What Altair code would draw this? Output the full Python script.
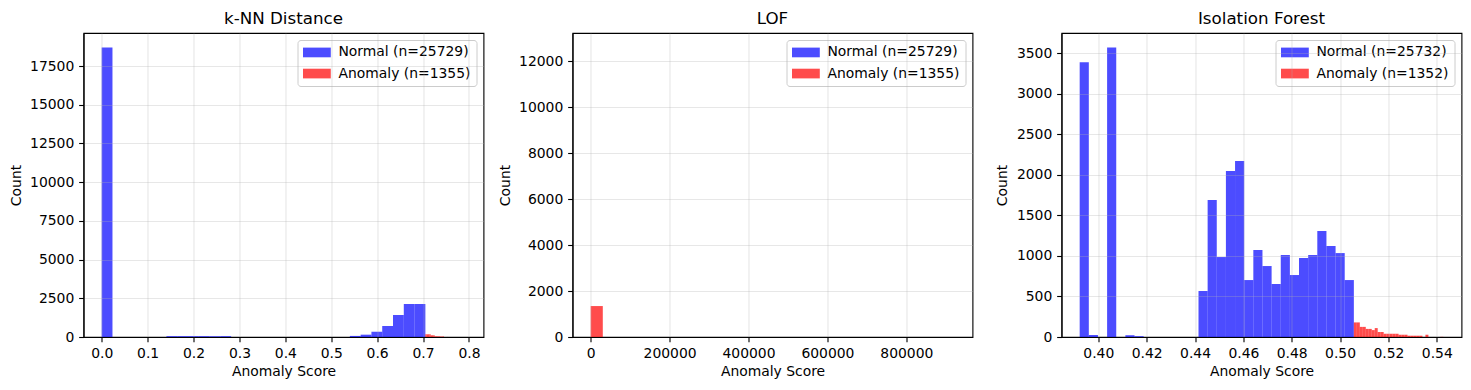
import altair as alt
import numpy as np
import pandas as pd

N_BINS = 30
TITLES = ["k-NN Distance", "LOF", "Isolation Forest"]
NORMAL_N = [25729, 25729, 25732]
ANOMALY_N = [1355, 1355, 1352]

# ---- k-NN Distance ----
knn_normal_range = [0.0, 0.705]
knn_normal_counts = [18700, 0, 0, 0, 0, 0, 55, 55, 55, 55, 55, 55, 0, 0, 0,
                     0, 0, 0, 0, 0, 0, 0, 0, 70, 150, 340, 710, 1420, 2130, 2130]
knn_anomaly_range = [0.705, 0.792]
knn_anomaly_counts = [175, 175, 170, 170, 110, 105, 105, 45, 45, 42, 42, 40, 40, 38, 5,
                      4, 3, 3, 2, 2, 2, 1, 1, 1, 1, 0, 0, 0, 0, 1]

# ---- LOF ----
lof_normal_range = [0.97, 4.0]
lof_normal_counts = [12610, 9400, 2300, 707, 300, 150, 90, 50, 35, 25, 15, 10, 8, 6, 5,
                     4, 3, 2, 2, 1, 1, 1, 1, 0, 1, 0, 0, 1, 0, 1]
lof_anomaly_range = [0.95, 921700.0]
lof_anomaly_counts = [1348, 1, 1, 0, 1, 0, 0, 1, 0, 0, 0, 0, 1, 0, 0,
                      0, 0, 0, 1, 0, 0, 0, 0, 0, 0, 0, 0, 0, 0, 1]

# ---- Isolation Forest ----
if_normal_range = [0.3923, 0.5057]
if_normal_counts = [3393, 25, 0, 3574, 0, 22, 10, 0, 0, 0, 0, 0, 0, 568, 1690,
                    987, 2048, 2172, 703, 1073, 876, 654, 1012, 765, 975, 1012, 1308, 1123, 1036, 703]
if_anomaly_range = [0.5057, 0.5427]
if_anomaly_counts = [180, 180, 125, 125, 100, 100, 85, 110, 62, 62, 40, 40, 40, 40, 40,
                     28, 28, 28, 16, 16, 16, 16, 16, 0, 28, 0, 0, 0, 0, 2]

# axis ticks
knn_xticks = [0.0, 0.1, 0.2, 0.3, 0.4, 0.5, 0.6, 0.7, 0.8]
knn_yticks = [0, 2500, 5000, 7500, 10000, 12500, 15000, 17500]
lof_xticks = [0, 200000, 400000, 600000, 800000]
lof_yticks = [0, 2000, 4000, 6000, 8000, 10000, 12000]
if_xticks = [0.40, 0.42, 0.44, 0.46, 0.48, 0.50, 0.52, 0.54]
if_yticks = [0, 500, 1000, 1500, 2000, 2500, 3000, 3500]

PANELS = [
    (knn_normal_range, knn_normal_counts, knn_anomaly_range, knn_anomaly_counts, knn_xticks, knn_yticks, ".1f"),
    (lof_normal_range, lof_normal_counts, lof_anomaly_range, lof_anomaly_counts, lof_xticks, lof_yticks, "d"),
    (if_normal_range, if_normal_counts, if_anomaly_range, if_anomaly_counts, if_xticks, if_yticks, ".2f"),
]

FONT = "DejaVu Sans"
FS = 13.9
LEGEND_SYMBOL = "M-2.78,-0.97H2.78V0.97H-2.78Z"


def make_panel(i):
    nr, nc, ar, ac, xt, yt, xfmt = PANELS[i]
    nlab = f"Normal (n={NORMAL_N[i]})"
    alab = f"Anomaly (n={ANOMALY_N[i]})"
    rows = []
    idx = 0
    for lab, rng, cnts in [(nlab, nr, nc), (alab, ar, ac)]:
        edges = np.linspace(rng[0], rng[1], N_BINS + 1)
        for k, c in enumerate(cnts):
            if c > 0:
                rows.append({"series": lab, "x0": edges[k], "x1": edges[k + 1],
                             "count": c, "base": 0, "idx": idx})
            idx += 1
    df = pd.DataFrame(rows)
    lo = min(nr[0], ar[0])
    hi = max(nr[1], ar[1])
    pad = 0.05 * (hi - lo)
    ymax = 1.05 * max(max(nc), max(ac))
    return alt.Chart(df).mark_rect(opacity=0.7, strokeWidth=0).encode(
        x=alt.X("x0:Q", scale=alt.Scale(domain=[lo - pad, hi + pad], nice=False, zero=False),
                axis=alt.Axis(values=xt, format=xfmt, title="Anomaly Score", zindex=1)),
        x2="x1:Q",
        y=alt.Y("count:Q", scale=alt.Scale(domain=[0, ymax], nice=False, zero=False),
                axis=alt.Axis(values=yt, format="d", title="Count", zindex=1)),
        y2="base:Q",
        color=alt.Color("series:N",
                        scale=alt.Scale(domain=[nlab, alab], range=["#0000ff", "#ff0000"]),
                        legend=alt.Legend(title=None, orient="top-right", offset=7, padding=5.5,
                                          fillColor="white", strokeColor="#cccccc", cornerRadius=3,
                                          labelFont=FONT, labelFontSize=FS, labelColor="black",
                                          labelLimit=400,
                                          symbolType=LEGEND_SYMBOL, symbolSize=100,
                                          symbolOpacity=0.7, symbolStrokeWidth=0,
                                          symbolOffset=6.95, labelOffset=14.6, rowPadding=6.1)),
        order=alt.Order("idx:Q"),
    ).properties(width=400, height=304,
                 title=alt.TitleParams(TITLES[i], font=FONT, fontSize=16.7, fontWeight="normal",
                                       color="black", offset=5))


chart = alt.hconcat(make_panel(0), make_panel(1), make_panel(2), spacing=89, bounds="flush").resolve_scale(
    color="independent", x="independent", y="independent"
).resolve_legend(color="independent").configure_view(
    stroke="black", strokeWidth=1.11
).configure_axis(
    labelFont=FONT, labelFontSize=FS, labelColor="black",
    tickColor="black", tickSize=4.86, tickWidth=1.11, labelPadding=4.86,
    domainColor="black", domainWidth=1.11,
    grid=True, gridColor="#b0b0b0", gridOpacity=0.3, gridWidth=1.11,
    titleFont=FONT, titleFontSize=FS, titleFontWeight="normal", titleColor="black",
).configure_axisX(titlePadding=4).configure_axisY(titlePadding=6.5).properties(
    padding={"left": 0.5, "top": 2, "right": 0, "bottom": 0}, background="white")

chart.save("out.html", embed_options={"renderer": "svg", "actions": False})
